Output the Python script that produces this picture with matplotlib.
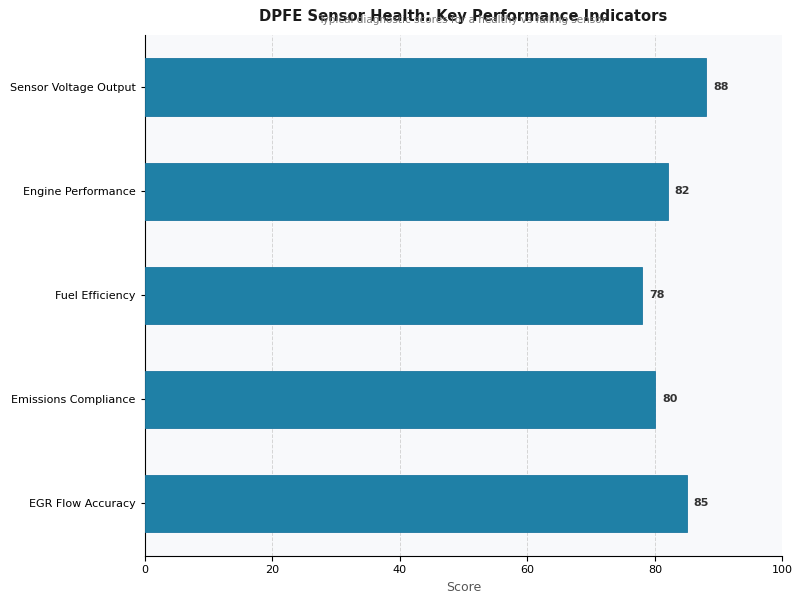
import matplotlib.pyplot as plt

categories = ['EGR Flow Accuracy', 'Emissions Compliance', 'Fuel Efficiency',
              'Engine Performance', 'Sensor Voltage Output']
scores = [85, 80, 78, 82, 88]

fig, ax = plt.subplots(figsize=(8, 6), dpi=100)
fig.subplots_adjust(left=0.181, right=0.978, top=0.942, bottom=0.074)

ax.set_facecolor('#f8f9fb')
bars = ax.barh(categories, scores, height=0.55, color='#1f80a6', edgecolor='#1c76a0', linewidth=0.6, zorder=3)

for bar, val in zip(bars, scores):
    ax.text(bar.get_width() + 1.1, bar.get_y() + bar.get_height() / 2, str(val),
            va='center', ha='left', fontsize=8, fontweight='bold', color='#333333')

ax.set_xlim(0, 100)
ax.set_xlabel('Score', fontsize=9, color='#555555')
ax.tick_params(axis='both', labelsize=8)
ax.tick_params(axis='y', length=3)
ax.grid(axis='x', linestyle='--', color='#d5d5d5', linewidth=0.7, zorder=0)
ax.spines['top'].set_visible(False)
ax.spines['right'].set_visible(False)

ax.set_title('DPFE Sensor Health: Key Performance Indicators', fontsize=10.6,
             fontweight='bold', color='#1a1a1a', pad=10)
fig.text(0.578, 0.967, 'Typical diagnostic scores for a healthy vs failing sensor',
         ha='center', va='center', fontsize=7.5, color='#777777')

plt.savefig('out.png')
